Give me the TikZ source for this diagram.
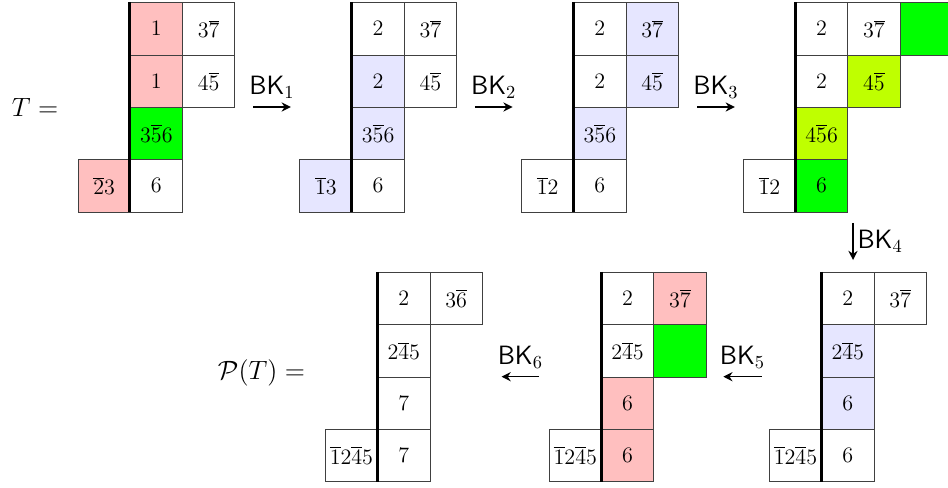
\documentclass[tikz,border=0pt]{standalone}
\usetikzlibrary{arrows.meta}

\definecolor{cellpink}{RGB}{255,191,191}
\definecolor{cellblue}{RGB}{230,230,255}
\definecolor{cellgreen}{RGB}{0,255,0}
\definecolor{celllime}{RGB}{191,255,0}

\tikzset{
    cell/.style={draw=black!75, minimum size=1cm, inner sep=0pt, font=\fontsize{12.5}{15}\selectfont},
    pinkcell/.style={cell, fill=cellpink},
    bluecell/.style={cell, fill=cellblue},
    greencell/.style={cell, fill=cellgreen},
    limecell/.style={cell, fill=celllime},
    wall/.style={line width=1.6pt},
    bk/.style={-{Stealth[length=5pt,width=5pt]}, line width=0.9pt},
    bklabel/.style={font=\Large, inner sep=4pt},
}

\begin{document}
\begin{tikzpicture}
            \useasboundingbox (0, 0) rectangle (18.126, 9.312);

            % Labels
            \node[font=\Large] (TLabel) at (0.67, 7.257) {\( T = \)};
            \node[font=\Large] (PLabel) at (5.0, 2.19) {\( \mathcal{P}(T) = \)};

            % Tableau T
            \node[pinkcell] (A11) at (2.99, 8.76) {\( 1 \)};
            \node[cell] (A12) at (3.99, 8.76) {\( 3\overline{7} \)};
            \node[pinkcell] (A21) at (2.99, 7.76) {\( 1 \)};
            \node[cell] (A22) at (3.99, 7.76) {\( 4\overline{5} \)};
            \node[greencell] (A31) at (2.99, 6.76) {\( 3\overline{5}6 \)};
            \node[pinkcell] (A40) at (1.99, 5.76) {\( \overline{2}3 \)};
            \node[cell] (A41) at (2.99, 5.76) {\( 6 \)};
            \draw[wall] (A11.north west) -- (A41.south west);

            % After BK_1
            \node[cell] (B11) at (7.23, 8.76) {\( 2 \)};
            \node[cell] (B12) at (8.23, 8.76) {\( 3\overline{7} \)};
            \node[bluecell] (B21) at (7.23, 7.76) {\( 2 \)};
            \node[cell] (B22) at (8.23, 7.76) {\( 4\overline{5} \)};
            \node[bluecell] (B31) at (7.23, 6.76) {\( 3\overline{5}6 \)};
            \node[bluecell] (B40) at (6.23, 5.76) {\( \overline{1}3 \)};
            \node[cell] (B41) at (7.23, 5.76) {\( 6 \)};
            \draw[wall] (B11.north west) -- (B41.south west);

            % After BK_2
            \node[cell] (C11) at (11.47, 8.76) {\( 2 \)};
            \node[bluecell] (C12) at (12.47, 8.76) {\( 3\overline{7} \)};
            \node[cell] (C21) at (11.47, 7.76) {\( 2 \)};
            \node[bluecell] (C22) at (12.47, 7.76) {\( 4\overline{5} \)};
            \node[bluecell] (C31) at (11.47, 6.76) {\( 3\overline{5}6 \)};
            \node[cell] (C40) at (10.47, 5.76) {\( \overline{1}2 \)};
            \node[cell] (C41) at (11.47, 5.76) {\( 6 \)};
            \draw[wall] (C11.north west) -- (C41.south west);

            % After BK_3
            \node[cell] (D11) at (15.71, 8.76) {\( 2 \)};
            \node[cell] (D12) at (16.71, 8.76) {\( 3\overline{7} \)};
            \node[greencell] (D13) at (17.71, 8.76) {};
            \node[cell] (D21) at (15.71, 7.76) {\( 2 \)};
            \node[limecell] (D22) at (16.71, 7.76) {\( 4\overline{5} \)};
            \node[limecell] (D31) at (15.71, 6.76) {\( 4\overline{5}6 \)};
            \node[cell] (D40) at (14.71, 5.76) {\( \overline{1}2 \)};
            \node[greencell] (D41) at (15.71, 5.76) {\( 6 \)};
            \draw[wall] (D11.north west) -- (D41.south west);

            % After BK_4
            \node[cell] (E11) at (16.21, 3.605) {\( 2 \)};
            \node[cell] (E12) at (17.21, 3.605) {\( 3\overline{7} \)};
            \node[bluecell] (E21) at (16.21, 2.605) {\( 2\overline{4}5 \)};
            \node[bluecell] (E31) at (16.21, 1.605) {\( 6 \)};
            \node[cell] (E40) at (15.21, 0.605) {\( \overline{1}2\overline{4}5 \)};
            \node[cell] (E41) at (16.21, 0.605) {\( 6 \)};
            \draw[wall] (E11.north west) -- (E41.south west);

            % After BK_5
            \node[cell] (F11) at (12.0, 3.605) {\( 2 \)};
            \node[pinkcell] (F12) at (13.0, 3.605) {\( 3\overline{7} \)};
            \node[cell] (F21) at (12.0, 2.605) {\( 2\overline{4}5 \)};
            \node[greencell] (F22) at (13.0, 2.605) {};
            \node[pinkcell] (F31) at (12.0, 1.605) {\( 6 \)};
            \node[cell] (F40) at (11.0, 0.605) {\( \overline{1}2\overline{4}5 \)};
            \node[pinkcell] (F41) at (12.0, 0.605) {\( 6 \)};
            \draw[wall] (F11.north west) -- (F41.south west);

            % P(T)
            \node[cell] (G11) at (7.72, 3.605) {\( 2 \)};
            \node[cell] (G12) at (8.72, 3.605) {\( 3\overline{6} \)};
            \node[cell] (G21) at (7.72, 2.605) {\( 2\overline{4}5 \)};
            \node[cell] (G31) at (7.72, 1.605) {\( 7 \)};
            \node[cell] (G40) at (6.72, 0.605) {\( \overline{1}2\overline{4}5 \)};
            \node[cell] (G41) at (7.72, 0.605) {\( 7 \)};
            \draw[wall] (G11.north west) -- (G41.south west);

            % Arrow ends
            \coordinate (BK1s) at (4.84, 7.266);
            \coordinate (BK1e) at (5.56, 7.266);
            \coordinate (BK2s) at (9.08, 7.266);
            \coordinate (BK2e) at (9.80, 7.266);
            \coordinate (BK3s) at (13.33, 7.266);
            \coordinate (BK3e) at (14.05, 7.266);
            \coordinate (BK4s) at (16.31, 5.05);
            \coordinate (BK4e) at (16.31, 4.34);
            \coordinate (BK5s) at (14.56, 2.11);
            \coordinate (BK5e) at (13.83, 2.11);
            \coordinate (BK6s) at (10.31, 2.11);
            \coordinate (BK6e) at (9.59, 2.11);

            % Arrows
            \draw[bk] (BK1s) -- node[above, bklabel] {\( \mathsf{BK}_1 \)} (BK1e);
            \draw[bk] (BK2s) -- node[above, bklabel] {\( \mathsf{BK}_2 \)} (BK2e);
            \draw[bk] (BK3s) -- node[above, bklabel] {\( \mathsf{BK}_3 \)} (BK3e);
            \draw[bk] (BK4s) -- node[right, bklabel, inner sep=2pt] {\( \mathsf{BK}_4 \)} (BK4e);
            \draw[bk] (BK5s) -- node[above, bklabel] {\( \mathsf{BK}_5 \)} (BK5e);
            \draw[bk] (BK6s) -- node[above, bklabel] {\( \mathsf{BK}_6 \)} (BK6e);
        \end{tikzpicture}
\end{document}
